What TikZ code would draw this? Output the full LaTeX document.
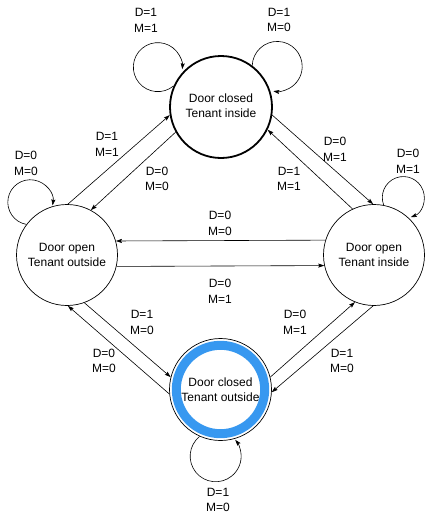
\documentclass[tikz,border=0pt]{standalone}
\usepackage{fontspec}
\setmainfont{Liberation Sans}
\usetikzlibrary{arrows.meta}

\definecolor{ringblue}{RGB}{55,152,240}

\tikzset{
  state/.style={circle, draw, line width=0.7pt, minimum size=101pt, inner sep=0pt,
                align=center, font=\fontsize{12}{15.5}\selectfont},
  startstate/.style={state, line width=1.8pt, minimum size=102pt},
  edge/.style={line width=0.6pt, -{Stealth[length=6pt,width=4pt,inset=1pt]}},
  cond/.style={align=center, inner sep=0pt, font=\fontsize{12}{15.5}\selectfont},
}

\begin{document}
\begin{tikzpicture}[x=1pt, y=1pt]
  \fill[white] (0,0) rectangle (425,-520);
  \useasboundingbox (0,0) rectangle (425,-520);

  % states
  \node[startstate] (ti) at (221,-107)
    {\raisebox{3pt}{\begin{tabular}{@{}c@{}}Door closed\\Tenant inside\end{tabular}}};
  \node[state] (lo) at (67,-255)  {Door open\\Tenant outside};
  \node[state] (ri) at (374,-255) {Door open\\Tenant inside};
  \node[state, minimum size=102pt] (bo) at (220.5,-389.5) {Door closed\\Tenant outside};
  \draw[ringblue, line width=9pt] (bo.center) circle[radius=44.2];

  % transitions between states
  \draw[edge] (lo.89)  -- (ti.189);
  \draw[edge] (ti.209.6) -- (lo.62);
  \draw[edge] (ti.351) -- (ri.91);
  \draw[edge] (ri.115) -- (ti.334.4);
  \draw[edge] (ri.163.9) -- (lo.16.1);
  \draw[edge] (lo.347.4) -- (ri.192.6);
  \draw[edge] (lo.290.9) -- (bo.166);
  \draw[edge] (bo.185.7) -- (lo.271);
  \draw[edge] (bo.14.6) -- (ri.248.4);
  \draw[edge] (ri.269) -- (bo.357.8);

  % self loops
  \draw[edge] (ti.156) arc[start angle=-50, end angle=-365, radius=24.5];
  \draw[edge] (ti.53) arc[start angle=178, end angle=-99, radius=25];
  \draw[edge] (lo.143) arc[start angle=-100, end angle=-368, radius=22.5];
  \draw[edge] (ri.79) arc[start angle=201, end angle=-69, radius=21];
  \draw[edge] (bo.246.6) arc[start angle=129, end angle=400, radius=25.5];

  % transition conditions
  \node[cond] (c1)  at (146,-20.5) {D=1\\M=1};
  \node[cond] (c2)  at (279,-20)   {D=1\\M=0};
  \node[cond] (c3)  at (26,-163.5) {D=0\\M=0};
  \node[cond] (c4)  at (408,-161.5){D=0\\M=1};
  \node[cond] (c5)  at (218,-500)  {D=1\\M=0};
  \node[cond] (c6)  at (107,-144.5){D=1\\M=1};
  \node[cond] (c7)  at (157,-179)  {D=0\\M=0};
  \node[cond] (c8)  at (335,-149.5){D=0\\M=1};
  \node[cond] (c9)  at (289,-179)  {D=1\\M=1};
  \node[cond] (c10) at (220,-223.5){D=0\\M=0};
  \node[cond] (c11) at (220,-291.5){D=0\\M=1};
  \node[cond] (c12) at (142,-322.5){D=1\\M=0};
  \node[cond] (c13) at (104,-361)  {D=0\\M=0};
  \node[cond] (c14) at (295,-322.5){D=0\\M=1};
  \node[cond] (c15) at (342,-361)  {D=1\\M=0};
\end{tikzpicture}
\end{document}
